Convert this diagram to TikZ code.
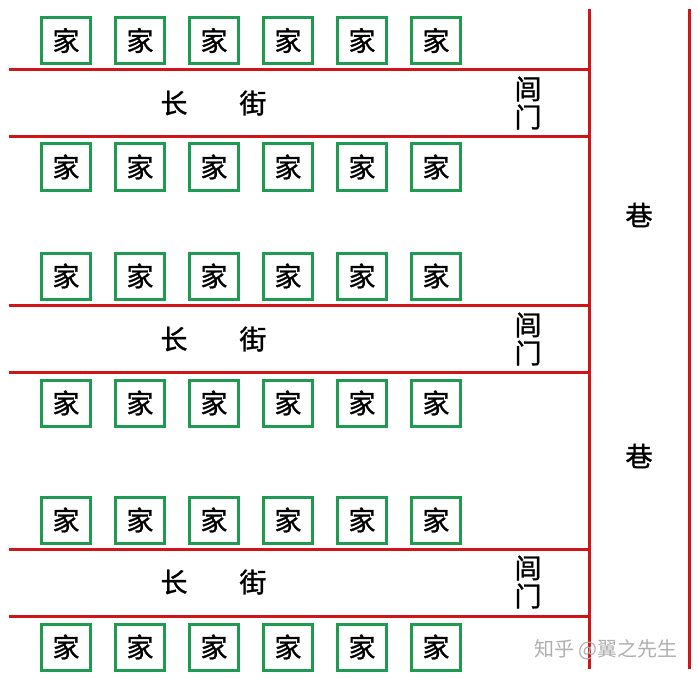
\documentclass[tikz,border=0pt]{standalone}
\usepackage{fontspec}
\setmainfont[FakeBold=1.2,AutoFakeBold=1.2]{Noto Sans CJK SC}
\newfontfamily\cjkthin{Noto Sans CJK SC}
\definecolor{roadred}{RGB}{208,20,24}
\definecolor{homegreen}{RGB}{30,155,80}
\definecolor{markgray}{RGB}{175,175,175}
\begin{document}
\begin{tikzpicture}[x=1pt,y=-1pt,
  home/.style={draw=homegreen,line width=3pt,minimum width=49pt,minimum height=46pt,inner sep=0pt,font=\bfseries\fontsize{27}{27}\selectfont},
  road/.style={draw=roadred,line width=3pt},
  lbl/.style={font=\bfseries\fontsize{27}{30}\selectfont,inner sep=0pt},
  gate/.style={font=\bfseries\fontsize{27}{30}\selectfont,inner sep=0pt,align=center}]
\useasboundingbox (0,0) rectangle (698,679);
% houses
\foreach \r/\y in {1/40.5,2/167,3/276,4/403,5/520,6/647}{
  \foreach \c in {0,...,5}{
    \node[home] (h\r\c) at ({66+74*\c},\y) {家};
  }
}
% street lines
\foreach \i/\y in {1/70,2/137,3/305,4/372,5/549,6/616}{
  \coordinate (sl\i) at (9,\y);
  \coordinate (sr\i) at (589,\y);
  \draw[road] (sl\i) -- (sr\i);
}
% lane lines
\coordinate (lt) at (589,9);
\coordinate (lb) at (589,669);
\coordinate (rt) at (689,9);
\coordinate (rb) at (689,669);
\draw[road] (lt) -- (lb);
\draw[road] (rt) -- (rb);
% street labels
\foreach \i/\y in {1/103,2/339,3/582}{
  \node[lbl] (c\i) at (174,\y) {长};
  \node[lbl] (j\i) at (253,\y) {街};
  \node[gate] (g\i) at (528,\y) {闾\\[-2pt]门};
}
\node[lbl] (x1) at (639,215) {巷};
\node[lbl] (x2) at (639,456) {巷};
\node[font=\cjkthin\fontsize{20}{20}\selectfont,text=markgray,inner sep=0pt] (wm) at (606,650) {知乎 @翼之先生};
\end{tikzpicture}
\end{document}
